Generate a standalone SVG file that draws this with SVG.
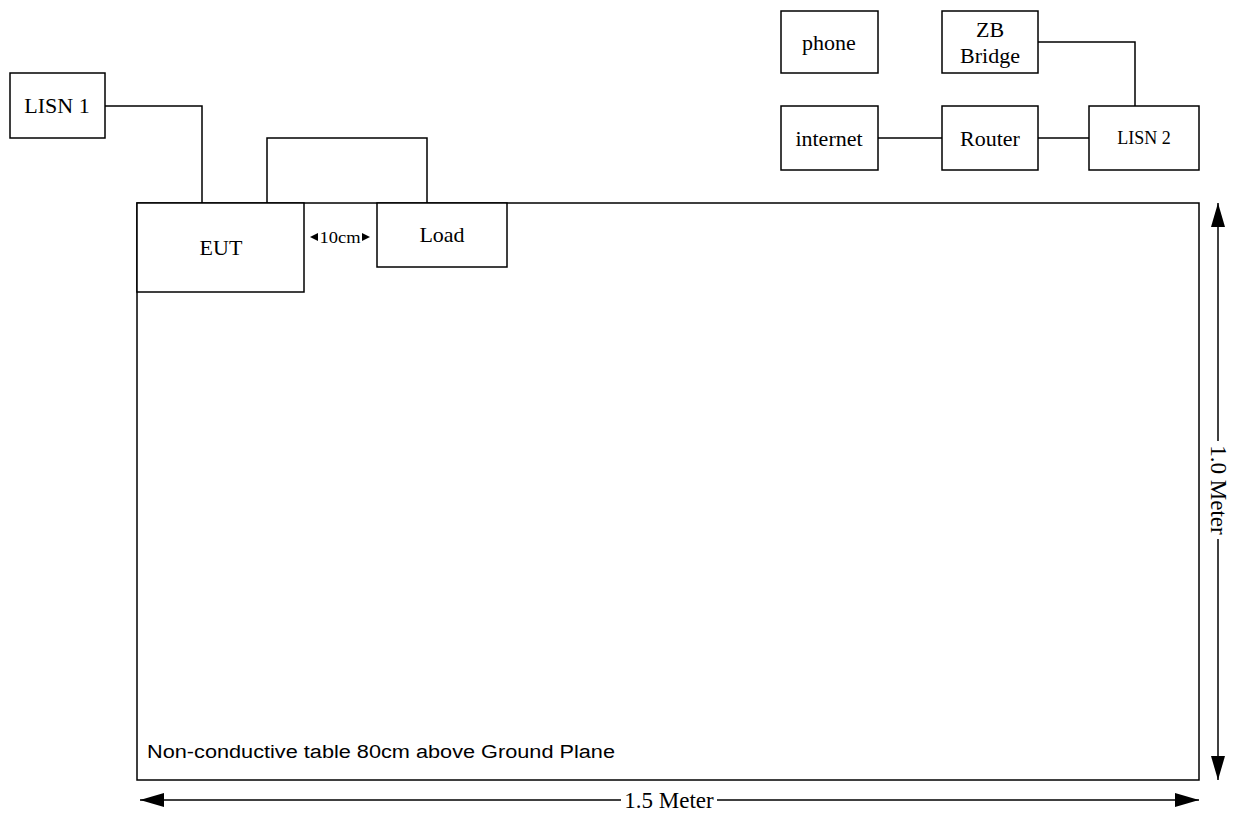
<svg xmlns="http://www.w3.org/2000/svg" width="1233" height="814" viewBox="0 0 1233 814">
<defs>
<marker id="big" viewBox="0 0 24 14" refX="24" refY="7" markerWidth="24" markerHeight="14" markerUnits="userSpaceOnUse" orient="auto-start-reverse">
<path d="M0,0 L24,7 L0,14 z" fill="#000"/>
</marker>
</defs>
<style>
.box{fill:#fff;stroke:#000;stroke-width:1.5}
.ln{fill:none;stroke:#000;stroke-width:1.5}
.t{font-family:"Liberation Serif","Times New Roman",serif;font-size:22px;fill:#000;text-anchor:middle;dominant-baseline:central}
.s{font-size:18px}
.xs{font-size:16px}
.d{font-size:23px}
</style>
<rect width="1233" height="814" fill="#fff"/>
<g id="table">
<rect class="box" x="137" y="203" width="1062" height="577"/>
<text x="147" y="758" font-family="'Liberation Sans',Arial,sans-serif" font-size="18" textLength="468" lengthAdjust="spacingAndGlyphs">Non-conductive table 80cm above Ground Plane</text>
</g>
<g id="connectors">
<polyline class="ln" points="105,106 202,106 202,203"/>
<polyline class="ln" points="267,203 267,138 427,138 427,203"/>
<polyline class="ln" points="1038,42 1135,42 1135,106"/>
<line class="ln" x1="878" y1="138" x2="942" y2="138"/>
<line class="ln" x1="1038" y1="138" x2="1089" y2="138"/>
</g>
<g id="lisn1"><rect class="box" x="10" y="73" width="95" height="65"/><text class="t" x="57" y="105">LISN 1</text></g>
<g id="eut"><rect class="box" x="137" y="203" width="167" height="89"/><text class="t" x="221" y="247">EUT</text></g>
<g id="load"><rect class="box" x="377" y="203" width="130" height="64"/><text class="t" x="442" y="234">Load</text></g>
<g id="gap">
<path d="M310,237 L318,233 L318,241 z M370,237 L362,233 L362,241 z" fill="#000"/>
<text class="t xs" x="340" y="237" textLength="41" lengthAdjust="spacingAndGlyphs">10cm</text>
</g>
<g id="phone"><rect class="box" x="781" y="11" width="97" height="62"/><text class="t" x="829" y="42">phone</text></g>
<g id="zb"><rect class="box" x="942" y="11" width="96" height="62"/><text class="t" x="990" y="29">ZB</text><text class="t" x="990" y="55">Bridge</text></g>
<g id="internet"><rect class="box" x="781" y="106" width="97" height="64"/><text class="t" x="829" y="138">internet</text></g>
<g id="router"><rect class="box" x="942" y="106" width="96" height="64"/><text class="t" x="990" y="138">Router</text></g>
<g id="lisn2"><rect class="box" x="1089" y="106" width="110" height="64"/><text class="t s" x="1144" y="138">LISN 2</text></g>
<g id="dim-h">
<line class="ln" x1="621" y1="800" x2="140" y2="800" marker-end="url(#big)"/>
<line class="ln" x1="717" y1="800" x2="1199" y2="800" marker-end="url(#big)"/>
<text class="t d" x="669" y="800">1.5 Meter</text>
</g>
<g id="dim-v">
<line class="ln" x1="1218" y1="441" x2="1218" y2="203" marker-end="url(#big)"/>
<line class="ln" x1="1218" y1="539" x2="1218" y2="780" marker-end="url(#big)"/>
<text class="t d" x="0" y="0" transform="translate(1218,490) rotate(90)">1.0 Meter</text>
</g>
</svg>
